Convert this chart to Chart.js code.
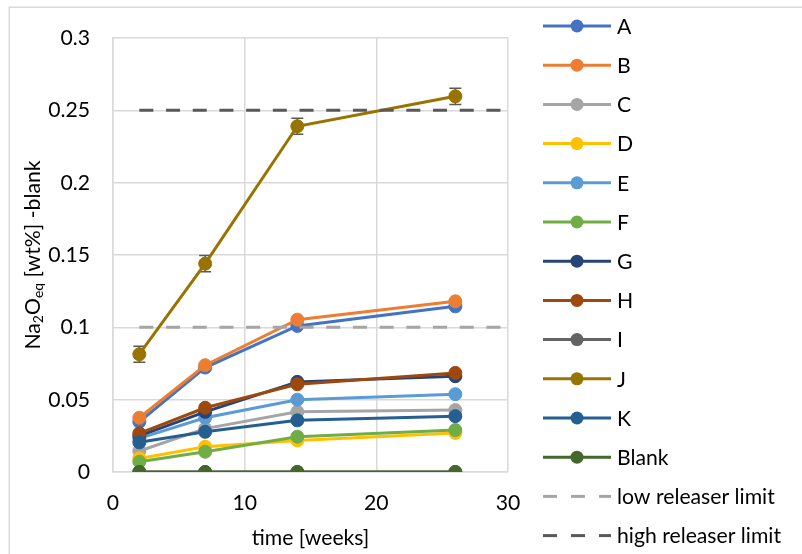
<!DOCTYPE html>
<html><head><meta charset="utf-8">
<script src="https://cdn.jsdelivr.net/npm/chart.js@4/dist/chart.umd.min.js"></script>
<style>html,body{margin:0;padding:0;background:#fff}#wrap{width:802px;height:554px;position:relative}canvas{display:block}</style>
</head><body><div id="wrap"><canvas id="c" width="802" height="554"></canvas></div>
<script>
// ---- data ----
const weeks = [2, 7, 14, 26];
const seriesNames = ['A', 'B', 'C', 'D', 'E', 'F', 'G', 'H', 'I', 'J', 'K', 'Blank'];
const valuesA = [0.0347, 0.0722, 0.1010, 0.1145];
const valuesB = [0.0375, 0.0738, 0.1053, 0.1180];
const valuesC = [0.0145, 0.0300, 0.0416, 0.0428];
const valuesD = [0.0094, 0.0175, 0.0218, 0.0270];
const valuesE = [0.0232, 0.0375, 0.0500, 0.0538];
const valuesF = [0.0071, 0.0140, 0.0244, 0.0290];
const valuesG = [0.0250, 0.0416, 0.0623, 0.0662];
const valuesH = [0.0267, 0.0444, 0.0607, 0.0685];
const valuesI = [0, 0, 0, 0];
const valuesJ = [0.0814, 0.1440, 0.2390, 0.2597];
const valuesK = [0.0205, 0.0278, 0.0357, 0.0386];
const valuesBlank = [0, 0, 0, 0];
const errorJ = [0.0056, 0.0056, 0.0056, 0.0056];
const limitNames = ['low releaser limit', 'high releaser limit'];
const limitValues = [0.1, 0.25];
const limitRange = [2, 30];
const xTickLabels = ['0', '10', '20', '30'];
const yTickLabels = ['0', '0.05', '0.1', '0.15', '0.2', '0.25', '0.3'];
const xTitle = 'time [weeks]';
const yTitleParts = [['Na', false], ['2', true], ['O', false], ['eq', true], [' [wt%] -blank', false]];

const seriesValues = [valuesA, valuesB, valuesC, valuesD, valuesE, valuesF, valuesG, valuesH, valuesI, valuesJ, valuesK, valuesBlank];
const seriesErrors = {J: errorJ};

// ---- styles ----
const seriesColors = ['#4472C4', '#ED7D31', '#A5A5A5', '#FFC000', '#5B9BD5', '#70AD47', '#264478', '#9E480E', '#636363', '#997300', '#255E91', '#43682B'];
const limitColors = ['#A5A5A5', '#595959'];
const FONT_FAMILY = 'Lato, "Liberation Sans", sans-serif';
const TEXT = '#000000';
const GRID = '#D9D9D9';

// fit font size so the legend text width matches the picture
const mctx = document.createElement('canvas').getContext('2d');
mctx.font = '100px ' + FONT_FAMILY;
const FS = Math.round(100 * 164 / mctx.measureText('high releaser limit').width * 10) / 10;

const datasets = seriesNames.map((name, i) => ({
  label: name,
  data: weeks.map((w, j) => ({x: w, y: seriesValues[i][j]})),
  borderColor: seriesColors[i],
  backgroundColor: seriesColors[i],
  pointBackgroundColor: seriesColors[i],
  pointBorderColor: seriesColors[i],
  borderWidth: 3,
  pointRadius: 6.5,
  pointBorderWidth: 1,
  pointHoverRadius: 6.5,
  tension: 0,
  order: 100 - i,
  isLimit: false
})).concat(limitNames.map((name, k) => ({
  label: name,
  data: limitRange.map(x => ({x: x, y: limitValues[k]})),
  borderColor: limitColors[k],
  backgroundColor: limitColors[k],
  borderWidth: 3,
  borderDash: [14, 12.7],
  pointRadius: 0,
  pointHoverRadius: 0,
  tension: 0,
  order: 50 - k,
  isLimit: true
})));

const extras = {
  id: 'extras',
  beforeDraw(chart) {
    const ctx = chart.ctx;
    ctx.save();
    ctx.fillStyle = '#fff';
    ctx.fillRect(0, 0, chart.width, chart.height);
    ctx.strokeStyle = GRID;
    ctx.lineWidth = 1.5;
    ctx.strokeRect(9.25, 7.25, 900, 900);
    ctx.restore();
  },
  beforeDatasetsDraw(chart) {
    const ctx = chart.ctx, xs = chart.scales.x, ys = chart.scales.y;
    ctx.save();
    ctx.strokeStyle = '#595959';
    ctx.lineWidth = 1.5;
    chart.data.datasets.forEach((ds, i) => {
      const errs = seriesErrors[ds.label];
      if (!errs || ds.isLimit) return;
      ds.data.forEach((p, j) => {
        const x = xs.getPixelForValue(p.x);
        const yt = ys.getPixelForValue(p.y + errs[j]);
        const yb = ys.getPixelForValue(p.y - errs[j]);
        ctx.beginPath();
        ctx.moveTo(x, yt); ctx.lineTo(x, yb);
        ctx.moveTo(x - 6, yt); ctx.lineTo(x + 6, yt);
        ctx.moveTo(x - 6, yb); ctx.lineTo(x + 6, yb);
        ctx.stroke();
      });
    });
    ctx.restore();
  },
  afterDraw(chart) {
    const ctx = chart.ctx, area = chart.chartArea;
    ctx.save();
    ctx.fillStyle = TEXT;
    ctx.textBaseline = 'middle';
    // x title
    ctx.font = FS + 'px ' + FONT_FAMILY;
    ctx.textAlign = 'center';
    ctx.fillText(xTitle, (area.left + area.right) / 2, 538);
    // y title with subscripts
    const subFS = FS * 0.66;
    ctx.textAlign = 'left';
    let total = 0;
    yTitleParts.forEach(([t, sub]) => {
      ctx.font = (sub ? subFS : FS) + 'px ' + FONT_FAMILY;
      total += ctx.measureText(t).width;
    });
    ctx.translate(33, (area.top + area.bottom) / 2);
    ctx.rotate(-Math.PI / 2);
    let cx = -total / 2;
    yTitleParts.forEach(([t, sub]) => {
      ctx.font = (sub ? subFS : FS) + 'px ' + FONT_FAMILY;
      ctx.fillText(t, cx, sub ? FS * 0.28 : 0);
      cx += ctx.measureText(t).width;
    });
    ctx.setTransform(1, 0, 0, 1, 0, 0);
    // legend
    const lx0 = 543, lx1 = 611, mx = 577, tx = 617, y0 = 26, dy = 39.2;
    chart.data.datasets.forEach((ds, i) => {
      const y = y0 + dy * i;
      ctx.strokeStyle = ds.borderColor;
      ctx.lineWidth = 3;
      ctx.setLineDash(ds.isLimit ? [14, 14] : []);
      ctx.beginPath();
      ctx.moveTo(lx0, y); ctx.lineTo(lx1, y);
      ctx.stroke();
      ctx.setLineDash([]);
      if (!ds.isLimit) {
        ctx.fillStyle = ds.borderColor;
        ctx.beginPath();
        ctx.arc(mx, y, 6.5, 0, Math.PI * 2);
        ctx.fill();
      }
      ctx.fillStyle = TEXT;
      ctx.font = FS + 'px ' + FONT_FAMILY;
      ctx.textAlign = 'left';
      ctx.fillText(ds.label, tx, y + 1);
    });
    ctx.restore();
  }
};

new Chart(document.getElementById('c'), {
  type: 'line',
  data: {datasets: datasets},
  options: {
    responsive: false,
    devicePixelRatio: 1,
    animation: false,
    events: [],
    layout: {padding: {top: 38, right: 294, bottom: 0, left: 0}},
    plugins: {legend: {display: false}, tooltip: {enabled: false}, title: {display: false}},
    scales: {
      x: {
        type: 'linear', min: 0, max: 30,
        ticks: {stepSize: 10, color: TEXT, font: {family: FONT_FAMILY, size: FS}, padding: 18, maxRotation: 0,
          callback: (v) => xTickLabels[Math.round(v / 10)]},
        grid: {color: GRID, lineWidth: 1.5, drawTicks: false},
        border: {color: GRID, width: 1.5},
        afterFit: (s) => { s.height = 82; }
      },
      y: {
        type: 'linear', min: 0, max: 0.3,
        ticks: {stepSize: 0.05, color: TEXT, font: {family: FONT_FAMILY, size: FS}, padding: 23,
          callback: (v) => yTickLabels[Math.round(v / 0.05)]},
        grid: {color: GRID, lineWidth: 1.5, drawTicks: false},
        border: {color: GRID, width: 1.5},
        afterFit: (s) => { s.width = 113; }
      }
    }
  },
  plugins: [extras]
});
</script>
</body></html>
